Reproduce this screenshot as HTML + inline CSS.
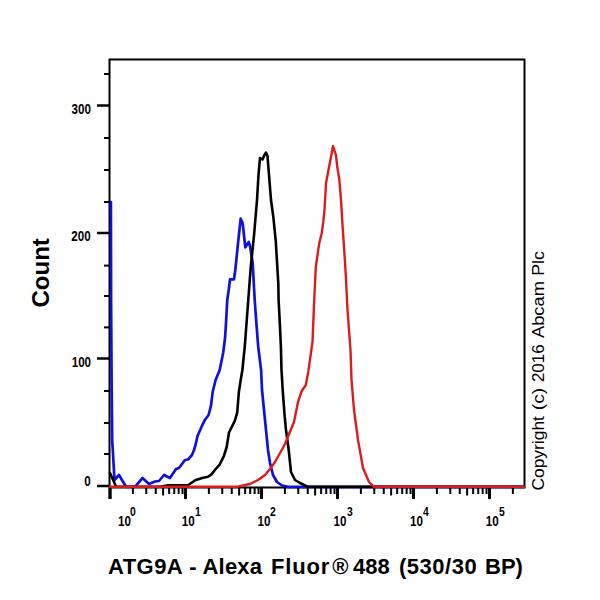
<!DOCTYPE html>
<html><head><meta charset="utf-8"><style>
html,body{margin:0;padding:0;background:#fff;width:600px;height:600px;overflow:hidden}
svg{position:absolute;left:0;top:0}
text{font-family:"Liberation Sans",sans-serif}
</style></head><body>
<svg width="600" height="600" viewBox="0 0 600 600">
<path d="M109.5 499 V59.5 H524.5 V487.5 H109.5" fill="none" stroke="#000" stroke-width="2"/>
<line x1="97" y1="486.00" x2="109.5" y2="486.00" stroke="#000" stroke-width="2.5"/>
<line x1="104" y1="454.00" x2="109.5" y2="454.00" stroke="#000" stroke-width="2"/>
<line x1="104" y1="423.00" x2="109.5" y2="423.00" stroke="#000" stroke-width="2"/>
<line x1="104" y1="391.00" x2="109.5" y2="391.00" stroke="#000" stroke-width="2"/>
<line x1="97" y1="358.50" x2="109.5" y2="358.50" stroke="#000" stroke-width="2.5"/>
<line x1="104" y1="327.40" x2="109.5" y2="327.40" stroke="#000" stroke-width="2"/>
<line x1="104" y1="296.00" x2="109.5" y2="296.00" stroke="#000" stroke-width="2"/>
<line x1="104" y1="265.60" x2="109.5" y2="265.60" stroke="#000" stroke-width="2"/>
<line x1="97" y1="233.00" x2="109.5" y2="233.00" stroke="#000" stroke-width="2.5"/>
<line x1="104" y1="202.00" x2="109.5" y2="202.00" stroke="#000" stroke-width="2"/>
<line x1="104" y1="170.00" x2="109.5" y2="170.00" stroke="#000" stroke-width="2"/>
<line x1="104" y1="138.00" x2="109.5" y2="138.00" stroke="#000" stroke-width="2"/>
<line x1="97" y1="105.50" x2="109.5" y2="105.50" stroke="#000" stroke-width="2.5"/>
<line x1="104" y1="74.00" x2="109.5" y2="74.00" stroke="#000" stroke-width="2"/>
<line x1="110.20" y1="487" x2="110.20" y2="499" stroke="#000" stroke-width="3"/>
<line x1="132.88" y1="487" x2="132.88" y2="494" stroke="#000" stroke-width="2"/>
<line x1="146.26" y1="487" x2="146.26" y2="494" stroke="#000" stroke-width="2"/>
<line x1="155.76" y1="487" x2="155.76" y2="494" stroke="#000" stroke-width="2"/>
<line x1="163.12" y1="487" x2="163.12" y2="495.5" stroke="#000" stroke-width="2"/>
<line x1="169.14" y1="487" x2="169.14" y2="494" stroke="#000" stroke-width="2"/>
<line x1="174.23" y1="487" x2="174.23" y2="494" stroke="#000" stroke-width="2"/>
<line x1="178.63" y1="487" x2="178.63" y2="494" stroke="#000" stroke-width="2"/>
<line x1="182.52" y1="487" x2="182.52" y2="494" stroke="#000" stroke-width="2"/>
<line x1="185.50" y1="487" x2="185.50" y2="499" stroke="#000" stroke-width="3"/>
<line x1="208.88" y1="487" x2="208.88" y2="494" stroke="#000" stroke-width="2"/>
<line x1="222.26" y1="487" x2="222.26" y2="494" stroke="#000" stroke-width="2"/>
<line x1="231.76" y1="487" x2="231.76" y2="494" stroke="#000" stroke-width="2"/>
<line x1="239.12" y1="487" x2="239.12" y2="495.5" stroke="#000" stroke-width="2"/>
<line x1="245.14" y1="487" x2="245.14" y2="494" stroke="#000" stroke-width="2"/>
<line x1="250.23" y1="487" x2="250.23" y2="494" stroke="#000" stroke-width="2"/>
<line x1="254.63" y1="487" x2="254.63" y2="494" stroke="#000" stroke-width="2"/>
<line x1="258.52" y1="487" x2="258.52" y2="494" stroke="#000" stroke-width="2"/>
<line x1="261.50" y1="487" x2="261.50" y2="499" stroke="#000" stroke-width="3"/>
<line x1="284.88" y1="487" x2="284.88" y2="494" stroke="#000" stroke-width="2"/>
<line x1="298.26" y1="487" x2="298.26" y2="494" stroke="#000" stroke-width="2"/>
<line x1="307.76" y1="487" x2="307.76" y2="494" stroke="#000" stroke-width="2"/>
<line x1="315.12" y1="487" x2="315.12" y2="495.5" stroke="#000" stroke-width="2"/>
<line x1="321.14" y1="487" x2="321.14" y2="494" stroke="#000" stroke-width="2"/>
<line x1="326.23" y1="487" x2="326.23" y2="494" stroke="#000" stroke-width="2"/>
<line x1="330.63" y1="487" x2="330.63" y2="494" stroke="#000" stroke-width="2"/>
<line x1="334.52" y1="487" x2="334.52" y2="494" stroke="#000" stroke-width="2"/>
<line x1="337.50" y1="487" x2="337.50" y2="499" stroke="#000" stroke-width="3"/>
<line x1="360.88" y1="487" x2="360.88" y2="494" stroke="#000" stroke-width="2"/>
<line x1="374.26" y1="487" x2="374.26" y2="494" stroke="#000" stroke-width="2"/>
<line x1="383.76" y1="487" x2="383.76" y2="494" stroke="#000" stroke-width="2"/>
<line x1="391.12" y1="487" x2="391.12" y2="495.5" stroke="#000" stroke-width="2"/>
<line x1="397.14" y1="487" x2="397.14" y2="494" stroke="#000" stroke-width="2"/>
<line x1="402.23" y1="487" x2="402.23" y2="494" stroke="#000" stroke-width="2"/>
<line x1="406.63" y1="487" x2="406.63" y2="494" stroke="#000" stroke-width="2"/>
<line x1="410.52" y1="487" x2="410.52" y2="494" stroke="#000" stroke-width="2"/>
<line x1="413.50" y1="487" x2="413.50" y2="499" stroke="#000" stroke-width="3"/>
<line x1="436.88" y1="487" x2="436.88" y2="494" stroke="#000" stroke-width="2"/>
<line x1="450.26" y1="487" x2="450.26" y2="494" stroke="#000" stroke-width="2"/>
<line x1="459.76" y1="487" x2="459.76" y2="494" stroke="#000" stroke-width="2"/>
<line x1="467.12" y1="487" x2="467.12" y2="495.5" stroke="#000" stroke-width="2"/>
<line x1="473.14" y1="487" x2="473.14" y2="494" stroke="#000" stroke-width="2"/>
<line x1="478.23" y1="487" x2="478.23" y2="494" stroke="#000" stroke-width="2"/>
<line x1="482.63" y1="487" x2="482.63" y2="494" stroke="#000" stroke-width="2"/>
<line x1="486.52" y1="487" x2="486.52" y2="494" stroke="#000" stroke-width="2"/>
<line x1="489.50" y1="487" x2="489.50" y2="499" stroke="#000" stroke-width="3"/>
<line x1="512.88" y1="487" x2="512.88" y2="494" stroke="#000" stroke-width="2"/>
<polyline points="110.9,202 111.1,300 111.6,380 112.2,440 114.5,480 119,475 126,486.8 135,486.8 142.5,478 149,484 155,481.5 159,481 164,475 170,478 176,469 179,468 185,460 188,459.5 192,455 194,450 195.5,445 197.5,436 201.6,426.7 205,419.7 208.6,415 211,405.7 212.7,391.7 215.6,380 219.7,370 223.2,352.5 225,338.5 226,323.3 227.25,300 228.7,290 230,279.3 234,279.3 235.3,270 238.7,236.7 240.7,218.7 242.7,223.3 245.3,247.3 248.7,242 250,246 252.7,263.3 254.7,300 256.4,323.3 258.2,346.7 261.1,370 262,390 264,410 266,430 268,450 270,463 273,475 277,482 282,485.5 288,486.8 524,486.8" fill="none" stroke="#1010dc" stroke-width="2.7" stroke-linejoin="round" stroke-linecap="round"/>
<polyline points="110,473 116,486.5 160,486.8 168,485.2 188,485.2 195.2,480.25 202.2,478 208,476.75 211.5,474.4 215,469.75 219.7,464.5 223.75,456.3 226.7,447 229,432.5 234.8,420.8 237.2,412.7 238.9,391.7 240.7,380 242.4,370 244.75,346.7 246.5,323.3 248.25,300 250.8,266.7 254.2,233.3 257,200 258.5,175 260,158 262.5,159.5 264.5,155 266,152.5 267.5,156 269,175 271,200 273.3,216.7 275.8,241.7 278.3,283.3 278.6,300 279.8,323 280.9,346.7 281.5,370 282.7,390 284.7,416.7 286,430 288.7,450 291,472 295,480 300,483 308,486.8 524,486.8" fill="none" stroke="#000" stroke-width="2.6" stroke-linejoin="round" stroke-linecap="round"/>
<polyline points="110,486.8 237,486.8 243,485.5 250,484 258,480 265,475 270,469 275,462 280,453 285,444 289,434 294,422 298,402 301.7,391 305.8,385 308.3,371.7 312.5,341.7 314.2,300 315.8,266.7 317.5,255 319.2,243.3 321.7,233.3 323.3,221.7 324.5,210 326,183.3 328.7,168.7 331.3,155.3 333,146 336,155.3 337.3,167.3 339.3,179.3 341,200 342.5,225 344.2,250 345.8,275 346.5,290 347.5,310 349,330 350.5,350 351.5,380 354,410 358,440 363,468 369,482 374,486.8 524,486.8" fill="none" stroke="#dc1c1c" stroke-width="2.4" stroke-linejoin="round" stroke-linecap="round"/>
<g font-weight="bold" font-size="14">
<text id="t300" transform="translate(71.5,113.5) scale(0.83,1)">300</text>
<text id="t200" transform="translate(71.3,240.6) scale(0.83,1)">200</text>
<text id="t100" transform="translate(71.7,366.8) scale(0.83,1)">100</text>
<text id="t0" transform="translate(84.3,485.5) scale(0.83,1)">0</text>
</g>
<g font-weight="bold">
<text transform="translate(118,526) scale(0.83,1)" font-size="14">10</text><text transform="translate(130,516) scale(0.83,1)" font-size="12.5">0</text>
<text transform="translate(181.7,526) scale(0.83,1)" font-size="14">10</text><text transform="translate(195,516) scale(0.83,1)" font-size="12.5">1</text>
<text transform="translate(257.5,526) scale(0.83,1)" font-size="14">10</text><text transform="translate(270,516) scale(0.83,1)" font-size="12.5">2</text>
<text transform="translate(333.6,526) scale(0.83,1)" font-size="14">10</text><text transform="translate(347,516) scale(0.83,1)" font-size="12.5">3</text>
<text transform="translate(410,526) scale(0.83,1)" font-size="14">10</text><text transform="translate(423,516) scale(0.83,1)" font-size="12.5">4</text>
<text transform="translate(485.8,526) scale(0.83,1)" font-size="14">10</text><text transform="translate(499,516) scale(0.83,1)" font-size="12.5">5</text>
</g>
<text id="count" transform="translate(48.5,307.5) rotate(-90)" font-weight="bold" font-size="24">Count</text>
<g font-size="16">
<text transform="translate(543.5,490.6) rotate(-90) scale(1.09,1)">Copyright</text>
<text transform="translate(543.5,410.2) rotate(-90) scale(1.2,1)">(c)</text>
<text transform="translate(543.5,382.1) rotate(-90) scale(1.06,1)">2016</text>
<text transform="translate(543.5,338) rotate(-90) scale(1.143,1)">Abcam</text>
<text transform="translate(543.5,275.8) rotate(-90) scale(1.114,1)">Plc</text>
</g>
<g font-weight="bold" font-size="22">
<text x="108" y="574" letter-spacing="0.45">ATG9A</text>
<text x="189.3" y="574">-</text>
<text x="202.5" y="574" letter-spacing="0.2">Alexa</text>
<text x="271" y="574" letter-spacing="0.8">Fluor</text>
<text x="332.3" y="574">®</text>
<text x="353" y="574">488</text>
<text x="399" y="574" letter-spacing="0.5">(530/30</text>
<text x="485" y="574">BP)</text>
</g>
</svg>
</body></html>
